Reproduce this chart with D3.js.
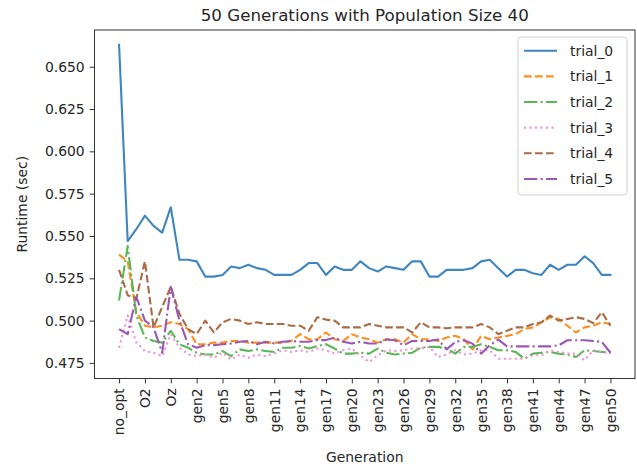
<!DOCTYPE html>
<html><head><meta charset="utf-8">
<script src="https://cdn.jsdelivr.net/npm/d3@7"></script>
<style>
body{margin:0;background:#fff;}
svg{display:block;font-family:"DejaVu Sans",sans-serif;}
</style></head>
<body><svg id="chart" width="637" height="469"></svg>
<script>
const categories = ["no_opt","O0","O1","O2","O3","Os","Oz"].concat(d3.range(0,51).map(i=>"gen"+i));
const seriesNames = ["trial_0","trial_1","trial_2","trial_3","trial_4","trial_5"];
const trial_0 = [0.663,0.547,0.554,0.562,0.556,0.552,0.567,0.536,0.536,0.535,0.526,0.526,0.527,0.532,0.531,0.533,0.531,0.530,0.527,0.527,0.527,0.530,0.534,0.534,0.527,0.532,0.530,0.530,0.535,0.531,0.529,0.532,0.531,0.530,0.535,0.535,0.526,0.526,0.530,0.530,0.530,0.531,0.535,0.536,0.531,0.526,0.530,0.530,0.528,0.527,0.533,0.530,0.533,0.533,0.538,0.534,0.527,0.527];
const trial_1 = [0.539,0.535,0.505,0.497,0.496,0.497,0.499,0.498,0.495,0.486,0.486,0.487,0.487,0.488,0.488,0.487,0.487,0.487,0.487,0.487,0.488,0.492,0.489,0.489,0.493,0.489,0.488,0.492,0.490,0.489,0.487,0.489,0.489,0.487,0.492,0.489,0.489,0.488,0.490,0.491,0.489,0.483,0.491,0.489,0.490,0.491,0.492,0.495,0.496,0.499,0.502,0.501,0.497,0.493,0.496,0.497,0.499,0.498];
const trial_2 = [0.512,0.544,0.503,0.490,0.488,0.487,0.494,0.486,0.484,0.481,0.480,0.480,0.482,0.479,0.483,0.482,0.483,0.482,0.4815,0.484,0.484,0.485,0.4835,0.485,0.486,0.4835,0.4805,0.4805,0.481,0.4805,0.4835,0.481,0.480,0.4805,0.481,0.484,0.4845,0.4845,0.4835,0.4805,0.4845,0.4845,0.486,0.4845,0.4825,0.4825,0.4815,0.4775,0.4805,0.481,0.4815,0.4805,0.480,0.4785,0.4825,0.482,0.4815,0.481];
const trial_3 = [0.484,0.503,0.487,0.482,0.481,0.479,0.492,0.484,0.480,0.479,0.480,0.478,0.481,0.477,0.480,0.478,0.480,0.479,0.4805,0.4825,0.4815,0.4825,0.4815,0.4835,0.4825,0.4805,0.4825,0.4835,0.4795,0.4755,0.4795,0.4825,0.482,0.4825,0.4835,0.4835,0.4845,0.4785,0.480,0.4825,0.480,0.4805,0.4825,0.4825,0.4775,0.4775,0.4775,0.4775,0.4795,0.4795,0.4825,0.4815,0.4805,0.4805,0.4766,0.4825,0.4815,0.4805];
const trial_4 = [0.530,0.515,0.513,0.535,0.496,0.508,0.520,0.504,0.495,0.492,0.500,0.493,0.499,0.501,0.500,0.498,0.499,0.498,0.498,0.498,0.497,0.497,0.494,0.502,0.5006,0.500,0.496,0.496,0.496,0.498,0.497,0.496,0.496,0.496,0.493,0.499,0.496,0.496,0.4955,0.496,0.496,0.496,0.498,0.496,0.492,0.494,0.496,0.496,0.498,0.499,0.503,0.500,0.501,0.502,0.501,0.4985,0.505,0.497];
const trial_5 = [0.495,0.492,0.514,0.500,0.496,0.481,0.520,0.500,0.486,0.484,0.4855,0.4855,0.486,0.4865,0.4875,0.488,0.486,0.4875,0.4865,0.4875,0.488,0.4875,0.4875,0.4885,0.4885,0.490,0.4875,0.4865,0.4875,0.4865,0.4865,0.4888,0.4884,0.4854,0.488,0.488,0.488,0.4888,0.483,0.4874,0.4884,0.4864,0.4805,0.4854,0.4888,0.4848,0.4848,0.4848,0.4848,0.4848,0.4848,0.4854,0.4884,0.4884,0.4884,0.488,0.4874,0.481];
const yTicks = [0.475,0.500,0.525,0.550,0.575,0.600,0.625,0.650];
const xTickStep = 3;

const allSeries = [trial_0,trial_1,trial_2,trial_3,trial_4,trial_5];
const colors = ["#3f86c0","#ff8d1f","#58b858","#ef94d0","#a96c45","#9a58b4"];
const dashes = [null,"7.7,3.3","13.3,3.3,2.1,3.3","2.1,3.4","7.7,3.3","13.3,3.3,2.1,3.3"];

const svg = d3.select("#chart");
const L = 94.5, R = 635, T = 30, B = 378.5;
const n = categories.length;
const pad = (n-1)*0.05;
const x = d3.scaleLinear().domain([-pad, n-1+pad]).range([L, R]);
const y = d3.scaleLinear().domain([0.4658, 0.6717]).range([B, T]);

const line = d3.line().x((d,i)=>x(i)).y(d=>y(d));
allSeries.forEach((s,k)=>{
  svg.append("path").datum(s).attr("d", line)
    .attr("fill","none").attr("stroke",colors[k]).attr("stroke-width",2.1)
    .attr("stroke-linejoin","round")
    .attr("stroke-linecap", dashes[k] ? "butt" : "square")
    .attr("stroke-dasharray", dashes[k]);
});

// spines
svg.append("rect").attr("x",L).attr("y",T).attr("width",R-L).attr("height",B-T)
  .attr("fill","none").attr("stroke","#333").attr("stroke-width",1);

const xAxis = d3.axisBottom(x)
  .tickValues(d3.range(0,n,xTickStep))
  .tickFormat(i=>categories[i]).tickSize(4.9).tickPadding(4.9);
const gx = svg.append("g").attr("transform",`translate(0,${B})`).call(xAxis);
gx.select(".domain").remove();
gx.selectAll(".tick line").attr("stroke","#333");
gx.selectAll(".tick text")
  .attr("font-size","13.9px").attr("fill","#262626")
  .attr("font-family","DejaVu Sans")
  .attr("transform","rotate(-90)")
  .attr("text-anchor","end").attr("x",-9.8).attr("y",0).attr("dy","0.35em");

const yAxis = d3.axisLeft(y).tickValues(yTicks).tickFormat(d3.format(".3f")).tickSize(4.9).tickPadding(4.9);
const gy = svg.append("g").attr("transform",`translate(${L},0)`).call(yAxis);
gy.select(".domain").remove();
gy.selectAll(".tick line").attr("stroke","#333");
gy.selectAll(".tick text").attr("font-size","13.9px").attr("fill","#262626").attr("font-family","DejaVu Sans");

svg.append("text").attr("x",(L+R)/2).attr("y",21).attr("text-anchor","middle")
  .attr("font-size","16.7px").attr("fill","#262626").text("50 Generations with Population Size 40");
svg.append("text").attr("x",(L+R)/2).attr("y",462).attr("text-anchor","middle")
  .attr("font-size","13.9px").attr("fill","#262626").text("Generation");
svg.append("text").attr("transform",`translate(27,${(T+B)/2}) rotate(-90)`).attr("text-anchor","middle")
  .attr("font-size","13.9px").attr("fill","#262626").text("Runtime (sec)");

// legend
const lg = svg.append("g");
lg.append("rect").attr("x",518).attr("y",37).attr("width",109).attr("height",158).attr("rx",3)
  .attr("fill","#fff").attr("fill-opacity",0.8).attr("stroke","#d0d0d0").attr("stroke-width",1);
seriesNames.forEach((nm,k)=>{
  const yy = 50.7 + k*25.65;
  lg.append("line").attr("x1",524).attr("x2",557).attr("y1",yy).attr("y2",yy)
    .attr("stroke",colors[k]).attr("stroke-width",2.1).attr("stroke-dasharray",dashes[k]);
  lg.append("text").attr("x",570).attr("y",yy).attr("dy","0.35em")
    .attr("font-size","13.9px").attr("fill","#262626").text(nm);
});
</script></body></html>
